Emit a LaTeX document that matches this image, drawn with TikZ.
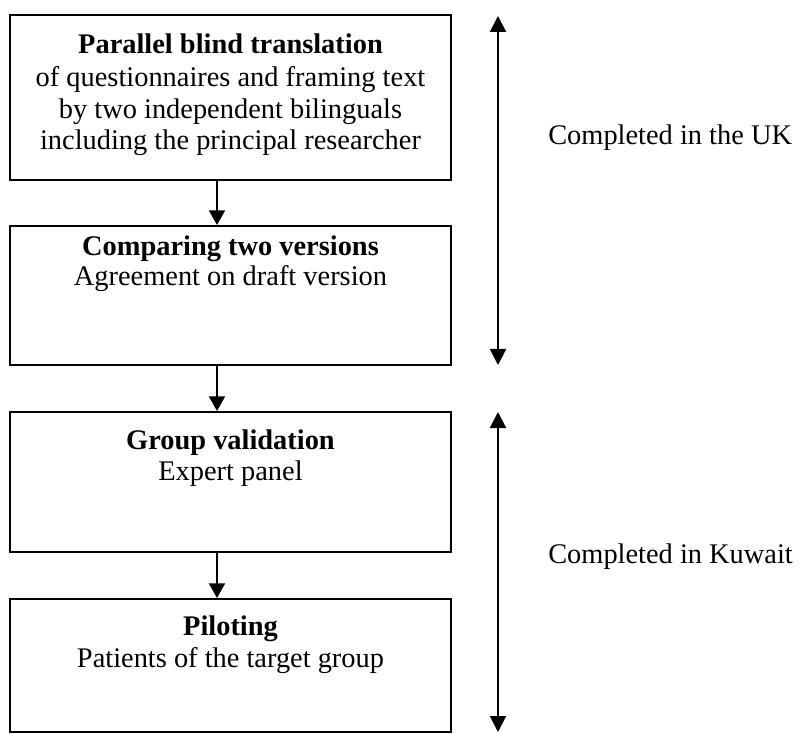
\documentclass[tikz,border=0pt]{standalone}
\usepackage{fontspec}
\setmainfont{Liberation Serif}
\usetikzlibrary{arrows.meta}
\begin{document}
\begin{tikzpicture}[x=0.75pt,y=-0.75pt,
  stepbox/.style={draw=black,line width=1.5pt,rectangle,inner sep=0pt,minimum width=330.75pt},
  txt/.style={inner sep=0pt,anchor=base,font=\fontsize{21.3pt}{23pt}\selectfont},
  ttl/.style={txt,font=\fontsize{21.3pt}{23pt}\selectfont\bfseries},
  side/.style={inner sep=0pt,anchor=base west,font=\fontsize{21.3pt}{23pt}\selectfont},
  arr/.style={line width=1.5pt,-{Triangle[width=12pt,length=11pt]}},
  darr/.style={line width=1.5pt,{Triangle[width=12pt,length=12pt]}-{Triangle[width=12pt,length=12pt]}}]
\useasboundingbox (0,0) rectangle (800,734);
\clip (0,0) rectangle (800,734);
% boxes
\node[stepbox,minimum height=123.75pt] (b1) at (230.5,97.5) {};
\node[stepbox,minimum height=104.25pt] (b2) at (230.5,295.5) {};
\node[stepbox,minimum height=105pt] (b3) at (230.5,482) {};
\node[stepbox,minimum height=99.75pt] (b4) at (230.5,665.5) {};
% texts
\node[ttl] (t1a) at (230.5,54) {Parallel blind translation};
\node[txt] (t1b) at (230.5,87) {of questionnaires and framing text};
\node[txt] (t1c) at (230.5,118.5) {by two independent bilinguals};
\node[txt] (t1d) at (230.5,150) {including the principal researcher};
\node[ttl] (t2a) at (230.5,256) {Comparing two versions};
\node[txt] (t2b) at (230.5,286) {Agreement on draft version};
\node[ttl] (t3a) at (230.5,449) {Group validation};
\node[txt] (t3b) at (230.5,480) {Expert panel};
\node[ttl] (t4a) at (230.5,635) {Piloting};
\node[txt] (t4b) at (230.5,667) {Patients of the target group};
% connectors
\coordinate (ax) at (217,0);
\draw[arr] (b1.south -| ax) -- (b2.north -| ax);
\draw[arr] (b2.south -| ax) -- (b3.north -| ax);
\draw[arr] (b3.south -| ax) -- (b4.north -| ax);
% side arrows
\coordinate (u1) at (498,16);
\coordinate (u2) at (498,365);
\coordinate (k1) at (498,412);
\coordinate (k2) at (498,732);
\draw[darr] (u1) -- (u2);
\draw[darr] (k1) -- (k2);
\node[side] (uk) at (548,145) {Completed in the UK};
\node[side] (kw) at (548,563) {Completed in Kuwait};
\end{tikzpicture}
\end{document}
